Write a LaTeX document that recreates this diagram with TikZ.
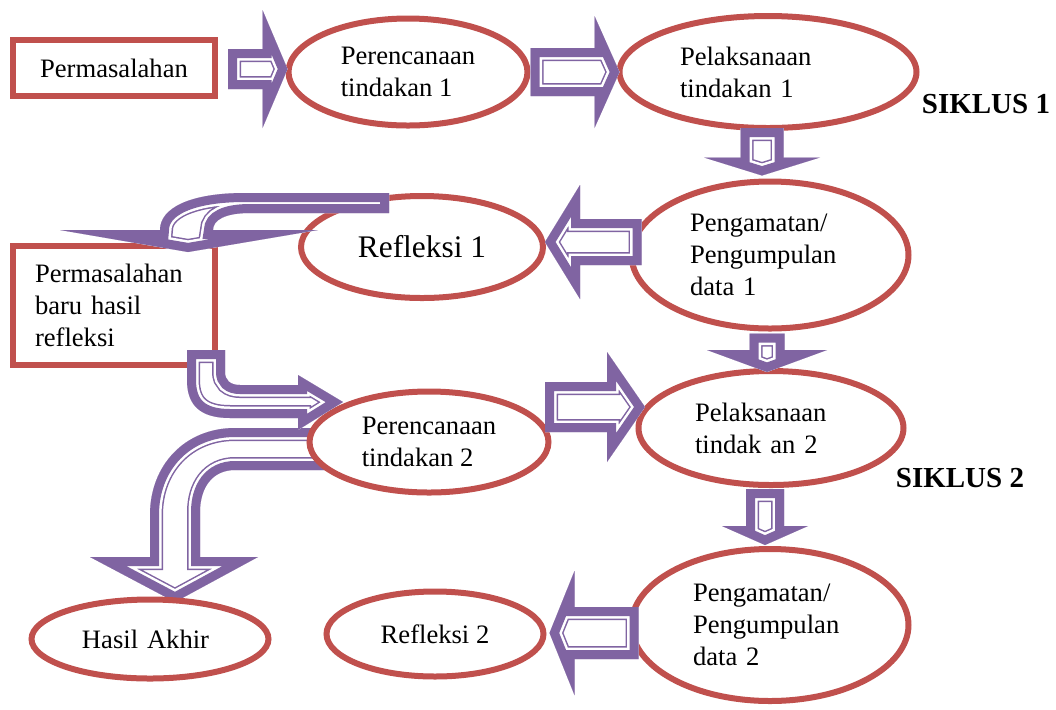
\documentclass[tikz,border=0pt]{standalone}
\usepackage{fontspec}
\setmainfont{Liberation Serif}
\usetikzlibrary{calc,shapes.geometric,positioning}
\definecolor{merah}{HTML}{C0504D}
\definecolor{ungu}{HTML}{8064A2}
\newcommand{\teks}{\fontsize{13.3}{16}\selectfont}
\newcommand{\panahblok}[1]{%
  \begin{scope}
  \clip #1;
  \fill[white] #1;
  \draw[ungu,line width=13pt,line join=miter] #1;
  \draw[white,line width=11.5pt,line join=miter] #1;
  \draw[ungu,line width=9pt,line join=miter] #1;
  \end{scope}}
\newcommand{\panahlurus}[5]{%
  \coordinate (p0) at #1;
  \coordinate (p1) at #2;
  \coordinate (pk) at ($(p1)!#5!(p0)$);
  \panahblok{($(p0)!#3!90:(p1)$) -- ($(pk)!#3!90:(p1)$) -- ($(pk)!#4!90:(p1)$) -- (p1)
    -- ($(pk)!#4!-90:(p1)$) -- ($(pk)!#3!-90:(p1)$) -- ($(p0)!#3!-90:(p1)$) -- cycle}}

\begin{document}
\begin{tikzpicture}[x=0.5pt,y=-0.5pt]
\tikzstyle{kotak}=[rectangle, draw=merah, line width=3pt, fill=white,
	inner sep=0pt, align=left, font=\teks]
\tikzstyle{elips}=[ellipse, draw=merah, line width=3pt, fill=white,
	inner sep=0pt, align=left, font=\teks]
\tikzstyle{siklus}=[font=\fontsize{14.5}{17}\selectfont\bfseries]
\useasboundingbox (0,0) rectangle (1056,709);

\panahblok{(335,428) -- (235,428) .. controls (185,428) and (150,465) .. (150,515) -- (150,557)
  -- (90,557) -- (175,602) -- (258,557) -- (200,557) -- (200,512)
  .. controls (200,488) and (212,470) .. (235,470) -- (335,470) -- cycle}

\node[kotak, minimum width=101pt, minimum height=28pt] (perm) at (114,68) {Permasalahan};
\node[kotak, inner xsep=11pt, text width=79pt, minimum height=59.5pt] (perm2) at (114,305.5)
	{Permasalahan\\baru hasil\\refleksi};
\node[elips, minimum width=119.5pt, minimum height=53.5pt] (ren1) at (408,72) {Perencanaan\\tindakan 1};
\node[elips, text width=88pt, minimum width=148.5pt, minimum height=56pt] (lak1) at (768,72)
	{Pelaksanaan\\tindakan 1};
\node[elips, text width=80pt, minimum width=138.5pt, minimum height=73.5pt] (amat1) at (770,255)
	{Pengamatan/\\Pengumpulan\\data 1};
\node[elips, minimum width=121pt, minimum height=51pt, font=\fontsize{15.7}{18}\selectfont] (ref1) at (422,247) {Refleksi 1};
\node[elips, minimum width=119.5pt, minimum height=50.5pt] (ren2) at (429,442) {Perencanaan\\tindakan 2};
\node[elips, text width=76pt, minimum width=132.5pt, minimum height=57pt] (lak2) at (771,428)
	{Pelaksanaan\\tindak an 2};
\node[elips, text width=77pt, minimum width=138.5pt, minimum height=76pt] (amat2) at (770,625)
	{Pengamatan/\\Pengumpulan\\data 2};
\node[elips, minimum width=108.5pt, minimum height=42.5pt] (ref2) at (435,634) {Refleksi 2};
\node[elips, text width=68pt, minimum width=118.5pt, minimum height=39.5pt] (akhir) at (150,639) {Hasil Akhir};
\node[siklus] (s1) at (986,104) {SIKLUS 1};
\node[siklus] (s2) at (960,478) {SIKLUS 2};

\panahlurus{($(perm.east)+(10,1)$)}{($(ren1.west)+(2,-3)$)}{10pt}{29.5pt}{12.5pt}
\panahlurus{(ren1.east)}{($(lak1.west)+(3,0)$)}{12pt}{28pt}{12.5pt}
\panahlurus{($(lak1.south)+(-6,-3)$)}{($(amat1.north)+(-8,-3)$)}{10.75pt}{29pt}{9pt}
\panahlurus{($(amat1.west)+(13,-13)$)}{($(ref1.east)+(-1,-5)$)}{11.5pt}{28.5pt}{17.5pt}
\panahlurus{($(amat1.south)+(-3,2)$)}{($(lak2.north)+(-4,4)$)}{8.75pt}{30pt}{11pt}
\panahlurus{($(ren2.east)+(-6.5,-35)$)}{($(lak2.west)+(9.5,-21)$)}{12.5pt}{27.5pt}{19pt}
\panahlurus{($(lak2.south)+(-6,1)$)}{($(amat2.north)+(-5,-1)$)}{9.5pt}{21.5pt}{9.5pt}
\panahlurus{($(amat2.west)+(10,8)$)}{($(ref2.east)+(3,-1)$)}{13pt}{31pt}{12.5pt}

\panahblok{(389,193) -- (245,193) .. controls (190,193) and (160,208) .. (160,230) -- (60,230)
  -- (188,252) -- (318,230) -- (213,230) .. controls (213,220) and (225,213) .. (250,213)
  -- (389,213) -- cycle}
\panahblok{(187,350) -- (187,380) .. controls (187,405) and (200,418) .. (230,418) -- (298,418)
  -- (298,430) -- (343,402) -- (298,375) -- (298,385) -- (240,385)
  .. controls (230,385) and (225,380) .. (225,372) -- (225,350) -- cycle}
\end{tikzpicture}
\end{document}
